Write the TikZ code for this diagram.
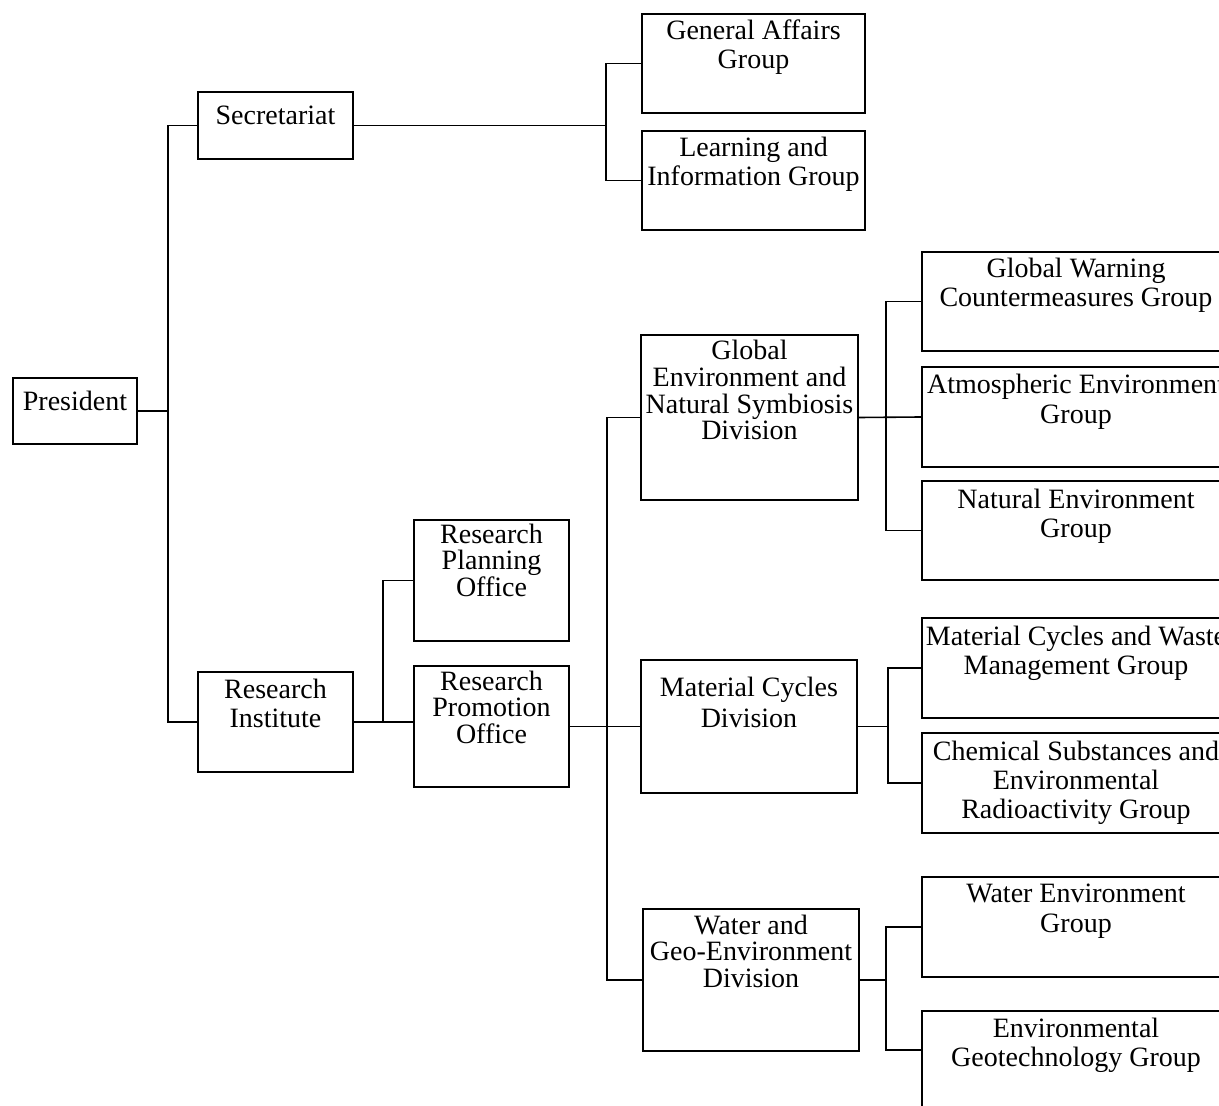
\documentclass[tikz,border=0pt]{standalone}
\usepackage{fontspec}
\setmainfont{Liberation Serif}
\usetikzlibrary{calc}
\newcommand{\orgfont}{\fontsize{14}{14.5}\selectfont}
\newcommand{\tightfont}{\fontsize{14}{13.3}\selectfont}
\tikzset{
  unit/.style={draw, line width=1pt, anchor=north west, align=center,
    inner xsep=0pt, inner ysep=0pt, font=\orgfont},
  office/.style={unit, minimum width=77.5pt},
  grp/.style={unit, minimum width=154pt, text height=28pt, text depth=22pt},
  link/.style={line width=0.8pt},
}

\begin{document}
\begin{tikzpicture}[x=0.5pt, y=-0.5pt]
\clip (0,0) rectangle (1219,1106);

% top level
\node[unit, minimum width=62pt, text height=16.5pt, text depth=16.5pt] (pres) at (12,377) {President};
\node[office, text height=16.5pt, text depth=17pt] (sec) at (197,91) {Secretariat};
\node[office, text height=27.5pt, text depth=22.5pt] (ri) at (197,671) {Research\\Institute};

% secretariat groups
\node[unit, minimum width=111.5pt, text height=27.5pt, text depth=22pt] (ga) at (641,13) {General Affairs\\Group};
\node[unit, minimum width=111.5pt, text height=27.5pt, text depth=22pt] (lig) at (641,130) {Learning and\\Information Group};

% offices
\node[office, font=\tightfont, text height=38.1pt, text depth=22.4pt] (rpl) at (413,519) {Research\\Planning\\Office};
\node[office, font=\tightfont, text height=38.6pt, text depth=21.9pt] (rpr) at (413,665) {Research\\Promotion\\Office};

% divisions
\node[unit, font=\tightfont, minimum width=108.5pt, text height=52.4pt, text depth=30.1pt] (gens) at (640,334) {Global\\Environment and\\Natural Symbiosis\\Division};
\node[unit, font=\fontsize{14}{15.5}\selectfont, minimum width=108pt, text height=33.5pt, text depth=33pt] (mcd) at (640,659) {Material Cycles\\Division};
\node[unit, font=\tightfont, minimum width=108pt, text height=39.1pt, text depth=31.9pt] (wgd) at (642,908) {Water and\\Geo-Environment\\Division};

% groups
\node[grp, text height=27.5pt, text depth=22pt] (gw) at (921,251) {Global Warning\\Countermeasures Group};
\node[grp] (atm) at (921,366) {Atmospheric Environment\\Group};
\node[grp, text depth=21.5pt] (nat) at (921,480) {Natural Environment\\Group};
\node[grp] (mcw) at (921,617) {Material Cycles and Waste\\Management Group};
\node[grp, text height=42.5pt, text depth=7.5pt] (chem) at (921,732) {Chemical Substances and\\Environmental\\Radioactivity Group};
\node[grp, font=\fontsize{14}{15}\selectfont, text height=27.5pt, text depth=22.5pt] (wenv) at (921,876) {Water Environment\\Group};
\node[grp, text height=27.5pt, text depth=32.5pt] (geo) at (921,1010) {Environmental\\Geotechnology Group};

% connectors
\coordinate (secbus) at (606,124);
\coordinate (divbus) at (607,421);
\path (pres.east) ++(30,0) coordinate (presbus);
\path (ri.east) ++(29,0) coordinate (ribus);
\path (gw.west) ++(-35,0) coordinate (gensbus);
\path (mcw.west) ++(-33,0) coordinate (mcbus);
\path (wenv.west) ++(-35,0) coordinate (wgbus);
\path (geo.north west) ++(0,40) coordinate (geoin);

\draw[link] (pres.east) -- (presbus);
\draw[link] (sec.west) -| (presbus) |- (ri.west);
\draw[link] (sec.east) -- (sec.east -| secbus);
\draw[link] (ga.west) -- (ga.west -| secbus) |- (lig.west);
\draw[link] (ri.east) -- (ri.east -| rpr.west);
\draw[link] (rpl.west) -| (ribus);
\draw[link] (rpr.east) -- (mcd.west);
\draw[link] (gens.west) -- (gens.west -| divbus) |- (wgd.west);
\draw[link] (gens.east) -- (atm.west);
\draw[link] (gw.west) -- (gensbus) |- (nat.west);
\draw[link] (mcd.east) -- (mcd.east -| mcbus);
\draw[link] (mcw.west) -- (mcbus) |- (chem.west);
\draw[link] (wgd.east) -- (wgd.east -| wgbus);
\draw[link] (wenv.west) -- (wgbus) |- (geoin);
\end{tikzpicture}
\end{document}
